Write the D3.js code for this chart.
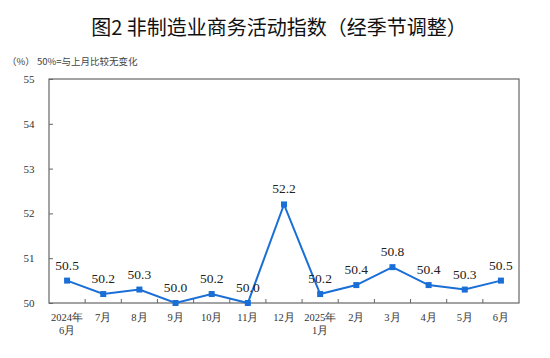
<!DOCTYPE html>
<html>
<head>
<meta charset="utf-8">
<script src="https://cdn.jsdelivr.net/npm/d3@7"></script>
<style>
  body { margin: 0; background: #fff; }
  svg { display: block; }
</style>
</head>
<body>
<div id="chart"></div>
<script>
const months = ['2024年|6月', '7月', '8月', '9月', '10月', '11月', '12月', '2025年|1月', '2月', '3月', '4月', '5月', '6月'];
const values = [50.5, 50.2, 50.3, 50.0, 50.2, 50.0, 52.2, 50.2, 50.4, 50.8, 50.4, 50.3, 50.5];
const yTicks = [50, 51, 52, 53, 54, 55];

const SERIF = "'Liberation Serif', serif";
const W = 550, H = 358;
const margin = { top: 79, right: 31, bottom: 55, left: 49 };
const width = W - margin.left - margin.right;
const height = H - margin.top - margin.bottom;

const svg = d3.select('#chart').append('svg').attr('width', W).attr('height', H);

// title
svg.append('text')
  .attr('x', 279).attr('y', 35)
  .attr('text-anchor', 'middle')
  .style('font-family', "'Noto Sans CJK SC', sans-serif")
  .style('font-size', '20px')
  .style('font-weight', 400)
  .attr('fill', '#111')
  .text('图2  非制造业商务活动指数（经季节调整）');

svg.append('text')
  .attr('x', 7).attr('y', 65)
  .style('font-family', "'Noto Sans CJK SC', sans-serif")
  .style('font-size', '9.5px')
  .attr('fill', '#444')
  .text('（%） 50%=与上月比较无变化');

const g = svg.append('g').attr('transform', `translate(${margin.left},${margin.top})`);

const x = d3.scaleBand().domain(months).range([0, width]);
const y = d3.scaleLinear().domain([50, 55]).range([height, 0]);

// frame
g.append('rect')
  .attr('x', 0).attr('y', 0).attr('width', width).attr('height', height)
  .attr('fill', 'none').attr('stroke', '#666').attr('stroke-width', 1.2);

// y axis ticks (inside)
const yAxis = g.append('g')
  .call(d3.axisLeft(y).tickValues(yTicks).tickSize(-4).tickFormat(d3.format('d')));
yAxis.attr('font-family', SERIF).attr('font-size', 11);
yAxis.select('.domain').remove();
yAxis.selectAll('line').attr('stroke', '#666');
yAxis.selectAll('text')
  .attr('fill', '#333').attr('text-anchor', 'middle').attr('x', -20);

// x axis ticks at band boundaries (inside)
const bounds = months.slice(1).map(m => x(m));
g.append('g').selectAll('line').data(bounds).enter().append('line')
  .attr('x1', d => d).attr('x2', d => d)
  .attr('y1', height).attr('y2', height - 4)
  .attr('stroke', '#666');

const xl = g.append('g')
  .attr('font-family', SERIF).attr('font-size', 10.5)
  .selectAll('text').data(months).enter().append('text')
  .attr('fill', '#333')
  .attr('text-anchor', 'middle')
  .attr('transform', d => `translate(${x(d) + x.bandwidth() / 2},${height + 18})`);
xl.selectAll('tspan').data(d => d.split('|')).enter().append('tspan')
  .attr('x', 0).attr('dy', (d, i) => i === 0 ? 0 : 13).text(d => d);

const cx = (d, i) => x(months[i]) + x.bandwidth() / 2;

// line + square markers
const line = d3.line().x((d, i) => cx(d, i)).y(d => y(d));
g.append('path').datum(values)
  .attr('d', line)
  .attr('fill', 'none').attr('stroke', '#1a6fd6').attr('stroke-width', 2);

g.selectAll('.pt').data(values).enter().append('rect')
  .attr('x', (d, i) => cx(d, i) - 3).attr('y', d => y(d) - 3)
  .attr('width', 6).attr('height', 6).attr('fill', '#1a6fd6');

// value labels
g.append('g').attr('font-family', SERIF).attr('font-size', 13.5)
  .selectAll('text').data(values).enter().append('text')
  .attr('fill', '#222')
  .attr('text-anchor', 'middle')
  .attr('x', (d, i) => cx(d, i)).attr('y', d => y(d) - 11)
  .text(d => d.toFixed(1));
</script>
</body>
</html>
